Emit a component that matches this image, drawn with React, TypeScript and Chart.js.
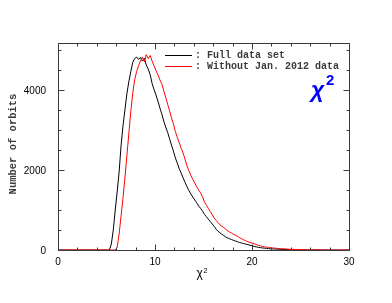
import React, { useEffect, useRef } from 'react';
import { Chart, registerables } from 'chart.js';

Chart.register(...registerables);

// ---- data ----
const BIN_START = 5.0;
const BIN_WIDTH = 0.2;
const X_MIN = 0;
const X_MAX = 30;
const Y_MIN = 0;
const Y_MAX = 5170;
const X_MAJOR_TICKS = [0, 10, 20, 30];
const X_MINOR_STEP = 2;
const Y_MAJOR_TICKS = [0, 2000, 4000];
const Y_MINOR_STEP = 500;
const SERIES_LABELS = [': Full data set', ': Without Jan. 2012 data'];
const SERIES_COLORS = ['#000000', '#ff0000'];

const FULL_DATA = [
  0, 0, 150, 500, 1000,
  1450, 1950, 2600, 3100, 3500,
  3900, 4200, 4450, 4680, 4780,
  4820, 4760, 4810, 4720, 4790,
  4620, 4520, 4380, 4160, 4010,
  3870, 3720, 3550, 3400, 3220,
  3070, 2940, 2780, 2620, 2470,
  2300, 2170, 2030, 1920, 1800,
  1690, 1580, 1480, 1400, 1320,
  1250, 1180, 1100, 1040, 970,
  890, 830, 770, 710, 650,
  590, 520, 470, 430, 390,
  360, 325, 300, 280, 260,
  240, 225, 205, 190, 175,
  165, 150, 140, 125, 110,
  100, 85, 75, 65, 58,
  50, 45, 40, 35, 30,
  28, 25, 22, 20, 18,
  15, 14, 12, 10, 9,
  8, 7, 6, 5, 5,
  4, 4, 3, 3, 2,
  2, 2, 1, 1, 1,
  1, 0, 0, 0, 0,
  0, 0, 0, 0, 0,
  0, 0, 0, 0, 0,
];

const WITHOUT_JAN_DATA = [
  0, 0, 0, 0, 0,
  60, 400, 850, 1300, 1800,
  2350, 2900, 3450, 3900, 4250,
  4450, 4600, 4720, 4820, 4700,
  4880, 4780, 4860, 4720, 4600,
  4480, 4380, 4250, 4150, 3980,
  3820, 3640, 3480, 3300, 3150,
  2960, 2810, 2680, 2540, 2420,
  2260, 2100, 1980, 1860, 1760,
  1670, 1580, 1500, 1430, 1330,
  1200, 1120, 1040, 960, 880,
  800, 740, 680, 630, 590,
  560, 520, 480, 445, 420,
  390, 370, 340, 310, 285,
  260, 235, 215, 195, 180,
  165, 150, 130, 115, 100,
  90, 80, 72, 65, 58,
  52, 48, 42, 38, 34,
  30, 27, 24, 21, 19,
  17, 15, 13, 11, 10,
  9, 8, 7, 6, 5,
  4, 4, 3, 3, 2,
  2, 2, 1, 1, 1,
  0, 0, 0, 0, 0,
  0, 0, 0, 0, 0,
];

function toPoints(values: number[]) {
  const pts = [{ x: X_MIN, y: 0 }];
  values.forEach((v, i) => pts.push({ x: BIN_START + (i + 0.5) * BIN_WIDTH, y: v }));
  pts.push({ x: X_MAX, y: 0 });
  return pts;
}

const MONO = '"Liberation Mono", "Courier New", monospace';
const SANS = '"Liberation Sans", Arial, sans-serif';

const idlAxes = {
  id: 'idlAxes',
  afterDatasetsDraw(chart: any) {
    const { ctx, chartArea: a, scales } = chart;
    const xs = scales.x;
    const ys = scales.y;
    const L = Math.floor(a.left) + 0.5;
    const R = Math.floor(a.right) + 0.5;
    const T = Math.floor(a.top) + 0.5;
    const B = Math.floor(a.bottom) + 0.5;
    ctx.save();
    ctx.strokeStyle = '#3a3a3a';
    ctx.lineWidth = 1;
    ctx.strokeRect(L, T, R - L, B - T);

    ctx.beginPath();
    for (let v = X_MIN; v <= X_MAX + 1e-9; v += X_MINOR_STEP) {
      const px = Math.round(xs.getPixelForValue(v)) + 0.5;
      const len = X_MAJOR_TICKS.includes(v) ? 6 : 3;
      ctx.moveTo(px, B); ctx.lineTo(px, B - len);
      ctx.moveTo(px, T); ctx.lineTo(px, T + len);
    }
    for (let v = Y_MIN; v <= Y_MAX; v += Y_MINOR_STEP) {
      const py = Math.round(ys.getPixelForValue(v)) + 0.5;
      const len = Y_MAJOR_TICKS.includes(v) ? 6 : 3;
      ctx.moveTo(L, py); ctx.lineTo(L + len, py);
      ctx.moveTo(R, py); ctx.lineTo(R - len, py);
    }
    ctx.stroke();

    ctx.fillStyle = '#000';
    ctx.font = `10px ${SANS}`;
    ctx.textAlign = 'center';
    ctx.textBaseline = 'middle';
    X_MAJOR_TICKS.forEach((v) => {
      ctx.fillText(String(v), xs.getPixelForValue(v), a.bottom + 12);
    });
    ctx.textAlign = 'right';
    Y_MAJOR_TICKS.forEach((v) => {
      ctx.fillText(String(v), a.left - 12, ys.getPixelForValue(v) + 1);
    });

    // x title
    ctx.textAlign = 'left';
    ctx.textBaseline = 'alphabetic';
    ctx.font = `12px ${SANS}`;
    ctx.fillText('χ', 196.5, 277);
    ctx.font = `7px ${SANS}`;
    ctx.fillText('2', 203.5, 273);

    // y title
    ctx.save();
    ctx.translate(13, 144);
    ctx.rotate(-Math.PI / 2);
    ctx.textAlign = 'center';
    ctx.textBaseline = 'middle';
    ctx.font = `bold 10.5px ${MONO}`;
    ctx.fillStyle = '#3c3c3c';
    ctx.fillText('Number of orbits', 0, 0);
    ctx.restore();

    // legend
    SERIES_LABELS.forEach((label, i) => {
      const y = 55.5 + i * 11;
      ctx.strokeStyle = SERIES_COLORS[i];
      ctx.beginPath();
      ctx.moveTo(165, y); ctx.lineTo(192, y);
      ctx.stroke();
      ctx.fillStyle = '#3c3c3c';
      ctx.font = `bold 10px ${MONO}`;
      ctx.textAlign = 'left';
      ctx.textBaseline = 'middle';
      ctx.fillText(label, 195, y);
    });

    // big chi^2 annotation
    ctx.fillStyle = '#0000ff';
    ctx.textBaseline = 'alphabetic';
    ctx.font = `italic bold 23px ${SANS}`;
    ctx.fillText('χ', 311, 97);
    ctx.font = `bold 15px ${SANS}`;
    ctx.fillText('2', 326, 85);
    ctx.restore();
  },
};

export default function App() {
  const ref = useRef<HTMLCanvasElement>(null);
  useEffect(() => {
    if (!ref.current) return;
    const chart = new Chart(ref.current, {
      type: 'line',
      data: {
        datasets: [
          {
            label: 'Without Jan. 2012 data',
            data: toPoints(WITHOUT_JAN_DATA),
            borderColor: SERIES_COLORS[1],
            borderWidth: 1,
            pointRadius: 0,
            fill: false,
            tension: 0,
          },
          {
            label: 'Full data set',
            data: toPoints(FULL_DATA),
            borderColor: SERIES_COLORS[0],
            borderWidth: 1,
            pointRadius: 0,
            fill: false,
            tension: 0,
          },
        ],
      },
      options: {
        animation: false,
        responsive: false,
        devicePixelRatio: 1,
        parsing: false,
        layout: { padding: { left: 58, right: 43, top: 43, bottom: 53 } },
        plugins: { legend: { display: false }, tooltip: { enabled: false } },
        scales: {
          x: { type: 'linear', min: X_MIN, max: X_MAX, display: false },
          y: { type: 'linear', min: Y_MIN, max: Y_MAX, display: false },
        },
      },
      plugins: [idlAxes],
    } as any);
    return () => chart.destroy();
  }, []);
  return (
    <div style={{ position: 'fixed', left: 0, top: 0, width: 392, height: 303, background: '#fff' }}>
      <canvas ref={ref} width={392} height={303} style={{ width: 392, height: 303, display: 'block' }} />
    </div>
  );
}
